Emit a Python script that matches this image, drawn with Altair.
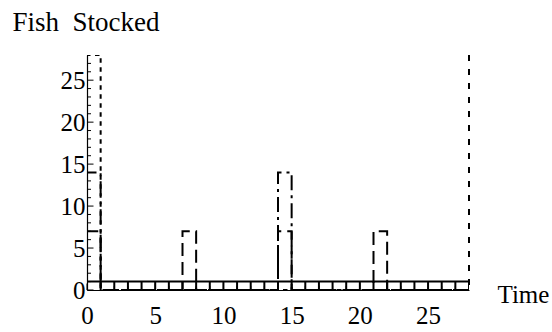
import altair as alt
import pandas as pd

HORIZON = 28
W, H = 382, 235
FONT = "Liberation Serif, Times New Roman, serif"

# Stocking schedules: release day of each batch and the number of fish in it
daily_days = list(range(0, 28))
daily_fish = [1] * 28
weekly_days = [0, 7, 14, 21]
weekly_fish = [7, 7, 7, 7]
biweekly_days = [0, 14]
biweekly_fish = [14, 14]
single_days = [0]
single_fish = [28]
final_days = [28]
final_fish = [28]

x_labels = [0, 5, 10, 15, 20, 25]
y_labels = [0, 5, 10, 15, 20, 25]
y_major_ticks = [0, 5, 10, 15, 20, 25]
y_minor_ticks = [1, 2, 3, 4, 6, 7, 8, 9, 11, 12, 13, 14, 16, 17, 18, 19,
                 21, 22, 23, 24, 26, 27]
x_major_ticks = [0, 5, 10, 15, 20, 25]
x_minor_ticks = [1, 2, 3, 4, 6, 7, 8, 9, 11, 12, 13, 14, 16, 17, 18, 19,
                 21, 22, 23, 24, 26, 27]


def step_path(name, days, fish):
    """Piecewise-constant path: each batch holds its value for one day."""
    pts = [(0, 0)]
    for d, n in zip(days, fish):
        pts += [(d, 0), (d, n), (d + 1, n), (d + 1, 0)]
    pts.append((HORIZON, 0))
    return pd.DataFrame({
        "policy": name,
        "order": list(range(len(pts))),
        "t": [p[0] for p in pts],
        "fish": [p[1] for p in pts],
    })


paths = pd.concat([
    step_path("daily", daily_days, daily_fish),
    step_path("weekly", weekly_days, weekly_fish),
    step_path("biweekly", biweekly_days, biweekly_fish),
    step_path("single", single_days, single_fish),
])
final = pd.DataFrame({"t": final_days, "fish": final_fish})

x_scale = alt.Scale(domain=[0, HORIZON], nice=False, zero=False)
y_scale = alt.Scale(domain=[0, 28], nice=False)

x_axis = alt.Axis(
    values=x_labels, ticks=False, grid=False, domain=True,
    domainColor="black", domainWidth=1.2,
    labelFont=FONT, labelFontSize=25, labelColor="black",
    labelBaseline="alphabetic", labelPadding=33, labelFlush=False,
    title="Time", titleFont=FONT, titleFontSize=25, titleFontWeight="normal",
    titleColor="black", titleAlign="left", titleBaseline="alphabetic",
    titleX=W + 28, titleY=12, titleAnchor="start",
)
y_axis = alt.Axis(
    values=y_labels, ticks=False, grid=False, domain=True,
    domainColor="black", domainWidth=1.2,
    labelFont=FONT, labelFontSize=25, labelColor="black",
    labelBaseline="middle", labelPadding=2, labelFlush=False,
    title="Fish\u00a0 Stocked", titleFont=FONT, titleFontSize=27,
    titleFontWeight="normal", titleColor="black", titleAngle=0,
    titleAlign="left", titleBaseline="alphabetic", titleX=-75, titleY=-25,
)

dash = {
    "daily": [1, 0],
    "weekly": [13, 6],
    "biweekly": [15, 5, 3, 5],
    "single": [4.5, 4.5],
}


def policy_line(name):
    return alt.Chart(paths).transform_filter(
        alt.datum.policy == name
    ).mark_line(
        color="black", strokeWidth=2, strokeDash=dash[name], strokeCap="butt",
        clip=True,
    ).encode(
        x=alt.X("t:Q", scale=x_scale, axis=x_axis),
        y=alt.Y("fish:Q", scale=y_scale, axis=y_axis),
        order=alt.Order("order:Q"),
    )


final_line = alt.Chart(final).mark_rule(
    color="black", strokeWidth=2, strokeDash=[6, 8], strokeCap="butt"
).encode(
    x=alt.X("t:Q", scale=x_scale, axis=x_axis),
    y=alt.Y("fish:Q", scale=y_scale, axis=y_axis),
    y2=alt.datum(0),
)


def y_ticks(values, length):
    return alt.Chart(pd.DataFrame({"v": values})).mark_rule(
        color="black", strokeWidth=1
    ).encode(
        y=alt.Y("v:Q", scale=y_scale, axis=y_axis),
        x=alt.value(0), x2=alt.value(length),
    )


def x_ticks(values, length):
    return alt.Chart(pd.DataFrame({"v": values})).mark_rule(
        color="black", strokeWidth=1
    ).encode(
        x=alt.X("v:Q", scale=x_scale, axis=x_axis),
        y=alt.value(H), y2=alt.value(H - length),
    )


chart = alt.layer(
    policy_line("daily"),
    policy_line("weekly"),
    policy_line("biweekly"),
    policy_line("single"),
    final_line,
    y_ticks(y_major_ticks, 6.5),
    y_ticks(y_minor_ticks, 4),
    x_ticks(x_major_ticks, 6.5),
    x_ticks(x_minor_ticks, 4),
).properties(
    width=W, height=H,
    autosize=alt.AutoSizeParams(type="none"),
    padding={"left": 87, "top": 55, "right": 83, "bottom": 42},
    background="white",
).configure_view(stroke=None)

chart.save("out.html", embed_options={"renderer": "svg", "actions": False})
